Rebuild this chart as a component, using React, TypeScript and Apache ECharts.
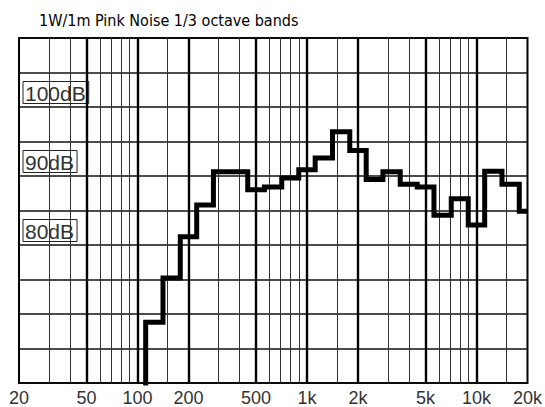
import React, { useEffect, useRef } from 'react';
import * as echarts from 'echarts';

const titleText = '1W/1m Pink Noise 1/3 octave bands';

// 1/3-octave band centre frequencies (Hz) and measured SPL (dB)
const bandFreqs = [100, 125, 160, 200, 250, 315, 400, 500, 630, 800, 1000, 1250, 1600, 2000, 2500, 3150, 4000, 5000, 6300, 8000, 10000, 12500, 16000, 20000];
const bandLevels = [55, 68.8, 75.2, 81.2, 85.8, 90.6, 90.6, 88.0, 88.4, 89.7, 90.9, 92.6, 96.4, 93.7, 89.5, 90.6, 88.8, 88.4, 84.3, 86.7, 82.9, 90.7, 88.8, 84.9];

const xLabelValues = [20, 50, 100, 200, 500, 1000, 2000, 5000, 10000, 20000];
const minorGridFreqs = [30, 40, 60, 70, 80, 90, 150, 300, 400, 600, 700, 800, 900, 1500, 3000, 4000, 6000, 7000, 8000, 9000, 15000];
const majorGridFreqs = [50, 100, 200, 500, 1000, 2000, 5000, 10000];
const dbLabelValues = [80, 90, 100];

const labelFont = "'Liberation Sans', Arial, sans-serif";

export default function App() {
  const ref = useRef<HTMLDivElement>(null);
  useEffect(() => {
    document.body.style.margin = '0';
    const chart = echarts.init(ref.current as HTMLDivElement, null, { renderer: 'svg' });
    chart.setOption({
      animation: false,
      backgroundColor: '#fff',
      title: {
        text: titleText,
        left: 34,
        top: 7,
        textStyle: { fontFamily: "'DejaVu Sans Condensed', 'DejaVu Sans', sans-serif", fontSize: 16, fontWeight: 'normal', color: '#000' },
      },
      grid: {
        left: 19,
        right: 14,
        top: 38,
        bottom: 22,
        show: true,
        borderColor: '#000',
        borderWidth: 2,
        backgroundColor: 'transparent',
      },
      xAxis: {
        type: 'log',
        logBase: 10,
        min: 20,
        max: 20000,
        axisLine: { show: false },
        axisTick: { show: false },
        splitLine: { show: false },
        minorSplitLine: { show: false },
        axisLabel: {
          customValues: xLabelValues,
          showMinLabel: true,
          showMaxLabel: true,
          hideOverlap: false,
          margin: 6,
          fontFamily: labelFont,
          fontSize: 18,
          color: '#333',
          formatter: (v: number) => (v >= 1000 ? `${v / 1000}k` : `${v}`),
        },
      },
      yAxis: {
        type: 'value',
        min: 60,
        max: 110,
        interval: 5,
        axisLine: { show: false },
        axisTick: { show: false },
        splitLine: { show: true, lineStyle: { color: '#111', width: 1.6 } },
        axisLabel: {
          inside: true,
          margin: 4,
          verticalAlign: 'bottom',
          formatter: (v: number) => (dbLabelValues.includes(v) ? `{b|${v}dB}\n{s| }` : ''),
          rich: {
            b: {
              fontFamily: labelFont,
              fontSize: 21,
              lineHeight: 21,
              color: '#333',
              borderColor: '#222',
              borderWidth: 1,
              padding: [1, 3, 0, 2],
            },
            s: { fontSize: 2, lineHeight: 4 },
          },
        },
      },
      series: [
        {
          type: 'line',
          data: [],
          silent: true,
          z: 1,
          markLine: {
            silent: true,
            z: 1,
            symbol: 'none',
            label: { show: false },
            data: [
              ...minorGridFreqs.map((f) => ({ xAxis: f, lineStyle: { color: '#333', width: 1, type: 'solid' } })),
              ...majorGridFreqs.map((f) => ({ xAxis: f, lineStyle: { color: '#000', width: 2.4, type: 'solid' } })),
            ],
          },
        },
        {
          type: 'line',
          z: 3,
          step: 'middle',
          symbol: 'none',
          clip: true,
          data: bandFreqs.map((f, i) => [f, bandLevels[i]]),
          lineStyle: { color: '#000', width: 5, join: 'miter', cap: 'butt' },
        },
      ],
    });
    return () => chart.dispose();
  }, []);
  return (
    <div
      ref={ref}
      style={{ position: 'fixed', left: 0, top: 0, width: 545, height: 407, background: '#fff' }}
    />
  );
}
